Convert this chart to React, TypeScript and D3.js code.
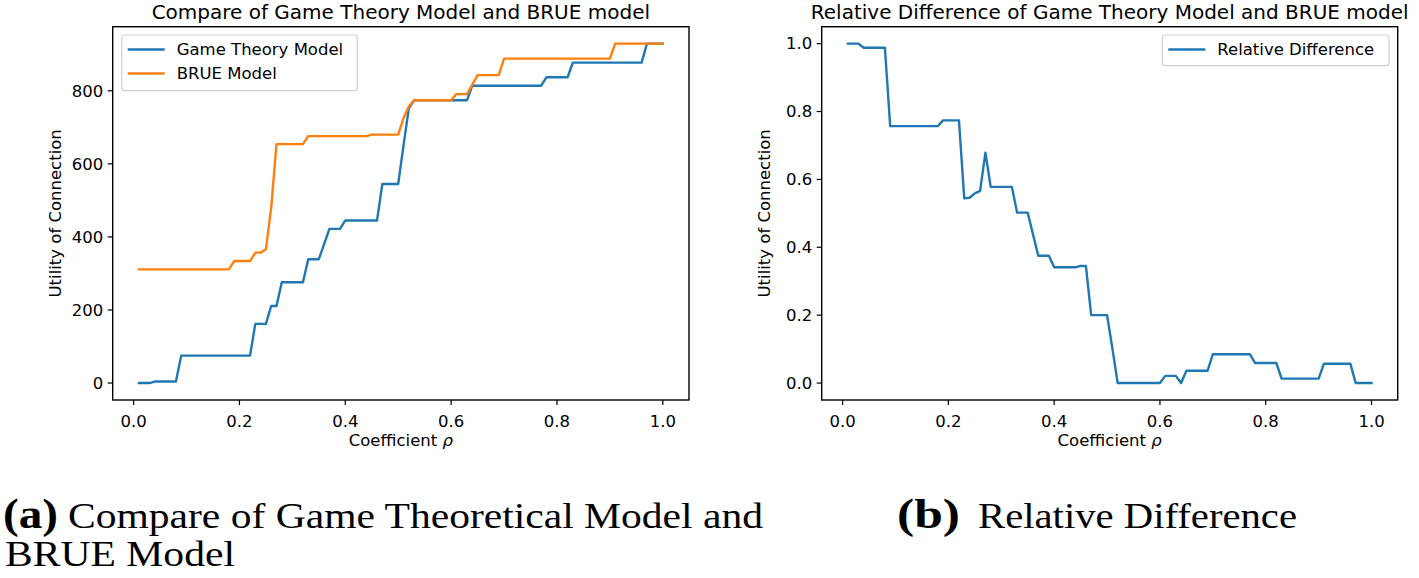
import React from "react";
import * as d3 from "d3";

// Coefficient rho grid
const rho: number[] = [
  0.01, 0.02, 0.03, 0.04, 0.05, 0.06, 0.07, 0.08, 0.09, 0.10,
  0.11, 0.12, 0.13, 0.14, 0.15, 0.16, 0.17, 0.18, 0.19, 0.20,
  0.21, 0.22, 0.23, 0.24, 0.25, 0.26, 0.27, 0.28, 0.29, 0.30,
  0.31, 0.32, 0.33, 0.34, 0.35, 0.36, 0.37, 0.38, 0.39, 0.40,
  0.41, 0.42, 0.43, 0.44, 0.45, 0.46, 0.47, 0.48, 0.49, 0.50,
  0.51, 0.52, 0.53, 0.54, 0.55, 0.56, 0.57, 0.58, 0.59, 0.60,
  0.61, 0.62, 0.63, 0.64, 0.65, 0.66, 0.67, 0.68, 0.69, 0.70,
  0.71, 0.72, 0.73, 0.74, 0.75, 0.76, 0.77, 0.78, 0.79, 0.80,
  0.81, 0.82, 0.83, 0.84, 0.85, 0.86, 0.87, 0.88, 0.89, 0.90,
  0.91, 0.92, 0.93, 0.94, 0.95, 0.96, 0.97, 0.98, 0.99, 1.00,
];

const gameTheory: number[] = [
  0, 0, 0, 4, 4, 4, 4, 4, 75, 75,
  75, 75, 75, 75, 75, 75, 75, 75, 75, 75,
  75, 75, 162, 162, 162, 211, 211, 276, 276, 276,
  276, 276, 339, 339, 339, 380, 422, 422, 422, 445,
  445, 445, 445, 445, 445, 445, 545, 545, 545, 545,
  650, 752, 774, 774, 774, 774, 774, 774, 774, 774,
  774, 774, 774, 814, 814, 814, 814, 814, 814, 814,
  814, 814, 814, 814, 814, 814, 814, 837, 837, 837,
  837, 837, 877, 877, 877, 877, 877, 877, 877, 877,
  877, 877, 877, 877, 877, 877, 929, 929, 929, 929,
];

const brue: number[] = [
  311, 311, 311, 311, 311, 311, 311, 311, 311, 311,
  311, 311, 311, 311, 311, 311, 311, 311, 334, 334,
  334, 334, 357, 357, 366, 480, 654, 654, 654, 654,
  654, 654, 676, 676, 676, 676, 676, 676, 676, 676,
  676, 676, 676, 676, 680, 680, 680, 680, 680, 680,
  725, 757, 774, 774, 774, 774, 774, 774, 774, 774,
  791, 791, 791, 817, 843, 843, 843, 843, 843, 888,
  888, 888, 888, 888, 888, 888, 888, 888, 888, 888,
  888, 888, 888, 888, 888, 888, 888, 888, 888, 888,
  929, 929, 929, 929, 929, 929, 929, 929, 929, 929,
];

const relDiff: number[] = [
  1.0, 1.0, 1.0, 0.988, 0.988, 0.988, 0.988, 0.988, 0.757, 0.757,
  0.757, 0.757, 0.757, 0.757, 0.757, 0.757, 0.757, 0.757, 0.774, 0.774,
  0.774, 0.774, 0.544, 0.546, 0.559, 0.566, 0.679, 0.578, 0.578, 0.578,
  0.578, 0.578, 0.502, 0.502, 0.502, 0.438, 0.375, 0.375, 0.375, 0.341,
  0.341, 0.341, 0.341, 0.341, 0.345, 0.345, 0.2, 0.2, 0.2, 0.2,
  0.103, 0, 0, 0, 0, 0, 0, 0, 0, 0,
  0.021, 0.021, 0.021, 0, 0.036, 0.036, 0.036, 0.036, 0.036, 0.085,
  0.085, 0.085, 0.085, 0.085, 0.085, 0.085, 0.085, 0.059, 0.059, 0.059,
  0.059, 0.059, 0.013, 0.013, 0.013, 0.013, 0.013, 0.013, 0.013, 0.013,
  0.057, 0.057, 0.057, 0.057, 0.057, 0.057, 0, 0, 0, 0,
];

const xTicks: number[] = [0.0, 0.2, 0.4, 0.6, 0.8, 1.0];
const yTicksLeft: number[] = [0, 200, 400, 600, 800];
const yTicksRight: number[] = [0.0, 0.2, 0.4, 0.6, 0.8, 1.0];

const BLUE = "#1f77b4";
const ORANGE = "#ff7f0e";
const FONT = "DejaVu Sans";
const TICK_FS = 16.5;
const TITLE_FS = 20;

type Series = { name: string; color: string; values: number[] };

function Panel(props: {
  left: number;
  right: number;
  top: number;
  bottom: number;
  yDomain: [number, number];
  yTicks: number[];
  yFmt: (v: number) => string;
  series: Series[];
  title: string;
  legend: { x0: number; x1: number; y0: number; y1: number };
  clipId: string;
}) {
  const { left, right, top, bottom, yDomain, yTicks, yFmt, series, title, legend, clipId } = props;
  const x = d3.scaleLinear().domain([-0.0395, 1.0495]).range([left, right]);
  const y = d3.scaleLinear().domain(yDomain).range([bottom, top]);
  const cx = (left + right) / 2;
  const cy = (top + bottom) / 2;
  return (
    <g>
      <defs>
        <clipPath id={clipId}>
          <rect x={left} y={top} width={right - left} height={bottom - top} />
        </clipPath>
      </defs>
      <g clipPath={`url(#${clipId})`}>
        {series.map((s) => {
          const line = d3
            .line<number>()
            .x((_, i) => x(rho[i]))
            .y((d) => y(d));
          return (
            <path
              key={s.name}
              d={line(s.values) || ""}
              fill="none"
              stroke={s.color}
              strokeWidth={2.4}
              strokeLinejoin="round"
              strokeLinecap="square"
            />
          );
        })}
      </g>
      <rect
        x={left}
        y={top}
        width={right - left}
        height={bottom - top}
        fill="none"
        stroke="#000"
        strokeWidth={1.4}
      />
      {xTicks.map((t) => (
        <g key={"x" + t}>
          <line x1={x(t)} x2={x(t)} y1={bottom} y2={bottom + 5} stroke="#000" strokeWidth={1.2} />
          <text
            x={x(t)}
            y={bottom + 26.5}
            textAnchor="middle"
            fontFamily={FONT}
            fontSize={TICK_FS}
            fill="#000"
          >
            {t.toFixed(1)}
          </text>
        </g>
      ))}
      {yTicks.map((t) => (
        <g key={"y" + t}>
          <line x1={left - 5} x2={left} y1={y(t)} y2={y(t)} stroke="#000" strokeWidth={1.2} />
          <text
            x={left - 9.5}
            y={y(t) + 5.8}
            textAnchor="end"
            fontFamily={FONT}
            fontSize={TICK_FS}
            fill="#000"
          >
            {yFmt(t)}
          </text>
        </g>
      ))}
      <text
        x={cx}
        y={bottom + 46}
        textAnchor="middle"
        fontFamily={FONT}
        fontSize={TICK_FS}
        fill="#000"
      >
        Coefficient <tspan fontStyle="italic">ρ</tspan>
      </text>
      <text
        transform={`translate(${left - 52},${cy}) rotate(-90)`}
        textAnchor="middle"
        fontFamily={FONT}
        fontSize={TICK_FS}
        fill="#000"
      >
        Utility of Connection
      </text>
      <text
        x={cx}
        y={top - 7.7}
        textAnchor="middle"
        fontFamily={FONT}
        fontSize={TITLE_FS}
        fill="#000"
      >
        {title}
      </text>
      <rect
        x={legend.x0}
        y={legend.y0}
        width={legend.x1 - legend.x0}
        height={legend.y1 - legend.y0}
        rx={3}
        fill="#fff"
        fillOpacity={0.8}
        stroke="#d0d0d0"
        strokeWidth={1.2}
      />
      {series.map((s, i) => {
        const ry = legend.y0 + 14.5 + i * 24;
        return (
          <g key={"lg" + s.name}>
            <line
              x1={legend.x0 + 6}
              x2={legend.x0 + 43}
              y1={ry}
              y2={ry}
              stroke={s.color}
              strokeWidth={2.4}
            />
            <text
              x={legend.x0 + 55}
              y={ry + 5.8}
              fontFamily={FONT}
              fontSize={TICK_FS}
              fill="#000"
            >
              {s.name}
            </text>
          </g>
        );
      })}
    </g>
  );
}

export default function App() {
  const serif = "'Liberation Serif', 'DejaVu Serif', serif";
  return (
    <svg
      width={1419}
      height={578}
      style={{ position: "absolute", left: 0, top: 0, background: "#fff" }}
    >
      <rect x={0} y={0} width={1419} height={578} fill="#fff" />
      <Panel
        left={112.7}
        right={689}
        top={26.7}
        bottom={400}
        yDomain={[-46.45, 975.45]}
        yTicks={yTicksLeft}
        yFmt={(v) => String(v)}
        series={[
          { name: "Game Theory Model", color: BLUE, values: gameTheory },
          { name: "BRUE Model", color: ORANGE, values: brue },
        ]}
        title="Compare of Game Theory Model and BRUE model"
        legend={{ x0: 121.7, x1: 357.3, y0: 35, y1: 90.7 }}
        clipId="clipA"
      />
      <Panel
        left={821.7}
        right={1397.7}
        top={26.7}
        bottom={400}
        yDomain={[-0.05, 1.05]}
        yTicks={yTicksRight}
        yFmt={(v) => v.toFixed(1)}
        series={[{ name: "Relative Difference", color: BLUE, values: relDiff }]}
        title="Relative Difference of Game Theory Model and BRUE model"
        legend={{ x0: 1162.3, x1: 1389, y0: 35, y1: 65.7 }}
        clipId="clipB"
      />
      <text
        x={3}
        y={528}
        fontFamily={serif}
        fontWeight="bold"
        fontSize={42}
        fill="#000"
        textLength={55}
        lengthAdjust="spacingAndGlyphs"
      >
        (a)
      </text>
      <text
        x={68}
        y={528}
        fontFamily={serif}
        fontSize={36}
        fill="#000"
        textLength={695}
        lengthAdjust="spacingAndGlyphs"
      >
        Compare of Game Theoretical Model and
      </text>
      <text
        x={5}
        y={566}
        fontFamily={serif}
        fontSize={36}
        fill="#000"
        textLength={230}
        lengthAdjust="spacingAndGlyphs"
      >
        BRUE Model
      </text>
      <text
        x={897}
        y={528}
        fontFamily={serif}
        fontWeight="bold"
        fontSize={42}
        fill="#000"
        textLength={63}
        lengthAdjust="spacingAndGlyphs"
      >
        (b)
      </text>
      <text
        x={978}
        y={528}
        fontFamily={serif}
        fontSize={36}
        fill="#000"
        textLength={319}
        lengthAdjust="spacingAndGlyphs"
      >
        Relative Difference
      </text>
    </svg>
  );
}
